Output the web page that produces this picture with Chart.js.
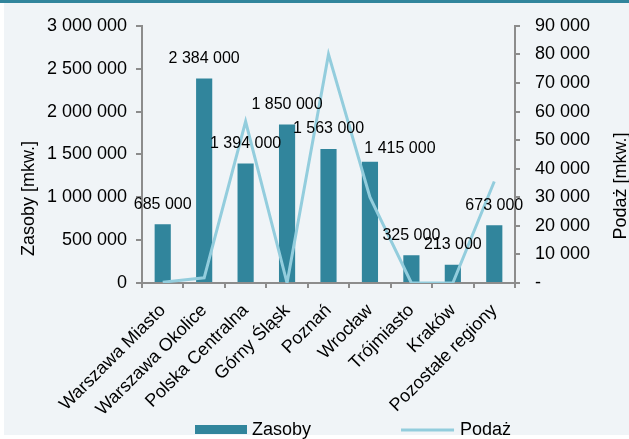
<!DOCTYPE html>
<html>
<head>
<meta charset="utf-8">
<script src="https://cdn.jsdelivr.net/npm/chart.js@4.4.0/dist/chart.umd.min.js"></script>
<style>
  html, body { margin: 0; padding: 0; background: #fff; }
  #wrap { width: 629px; height: 439px; }
</style>
</head>
<body>
<div id="wrap"><canvas id="chart" width="629" height="439"></canvas></div>
<script>
// data
const regions = ['Warszawa Miasto', 'Warszawa Okolice', 'Polska Centralna', 'Górny Śląsk', 'Poznań', 'Wrocław', 'Trójmiasto', 'Kraków', 'Pozostałe regiony'];
const zasoby = [685000, 2384000, 1394000, 1850000, 1563000, 1415000, 325000, 213000, 673000];
const podaz = [300, 1800, 56500, 0, 80000, 30000, 0, 0, 35500];
const seriesNames = ['Zasoby', 'Podaż'];
const axisTitles = ['Zasoby [mkw.]', 'Podaż [mkw.]'];
const leftMax = 3000000, leftStep = 500000;
const rightMax = 90000, rightStep = 10000;

const barColor = '#31859C';
const lineColor = '#93CDDD';
const axisColor = '#8C8C8C';
const FONT = '"Liberation Sans", Arial, sans-serif';

Chart.defaults.font.family = FONT;
Chart.defaults.color = '#000';

const fmt = v => String(v).replace(/\B(?=(\d{3})+(?!\d))/g, ' ');

// label nudges (Excel had the Wrocław label moved by hand)
const labelShift = { 5: [30, 7] };

const panel = {
    id: 'panel',
    beforeDraw(chart) {
        const ctx = chart.ctx;
        ctx.save();
        ctx.fillStyle = '#ffffff';
        ctx.fillRect(0, 0, chart.width, chart.height);
        ctx.fillStyle = '#F0F4F7';
        ctx.fillRect(4, 0, chart.width - 4, 435);
        ctx.fillStyle = barColor;
        ctx.fillRect(0, 0, chart.width, 3);
        ctx.restore();
    }
};

const extras = {
    id: 'extras',
    afterDraw(chart) {
        const ctx = chart.ctx;
        ctx.save();

        // bar value labels
        ctx.font = '16px ' + FONT;
        ctx.fillStyle = '#000';
        ctx.textAlign = 'center';
        ctx.textBaseline = 'middle';
        chart.getDatasetMeta(1).data.forEach((bar, i) => {
            const s = labelShift[i] || [0, 0];
            ctx.fillText(fmt(zasoby[i]), bar.x + s[0], bar.y - 20 + s[1]);
        });

        // axis titles
        ctx.font = '18px ' + FONT;
        [[29.5, 198.5, axisTitles[0]], [621, 186, axisTitles[1]]].forEach(([x, y, t]) => {
            ctx.save();
            ctx.translate(x, y);
            ctx.rotate(-Math.PI / 2);
            ctx.fillText(t, 0, 0);
            ctx.restore();
        });

        // legend
        ctx.textAlign = 'left';
        let x = 195;
        const y = 430;
        ctx.fillStyle = barColor;
        ctx.fillRect(x, y - 5, 52, 9);
        x += 57;
        ctx.fillStyle = '#000';
        ctx.fillText(seriesNames[0], x, y);
        x += ctx.measureText(seriesNames[0]).width + 90;
        ctx.strokeStyle = lineColor;
        ctx.lineWidth = 3;
        ctx.beginPath();
        ctx.moveTo(x, y);
        ctx.lineTo(x + 53, y);
        ctx.stroke();
        ctx.fillText(seriesNames[1], x + 59, y);

        ctx.restore();
    }
};

new Chart(document.getElementById('chart'), {
    type: 'bar',
    data: {
        labels: regions,
        datasets: [
            {
                type: 'line',
                label: seriesNames[1],
                data: podaz,
                yAxisID: 'y1',
                borderColor: lineColor,
                borderWidth: 3,
                pointRadius: 0,
                tension: 0,
                fill: false,
                order: 0
            },
            {
                label: seriesNames[0],
                data: zasoby,
                yAxisID: 'y',
                backgroundColor: barColor,
                barPercentage: 0.39,
                categoryPercentage: 1,
                order: 1
            }
        ]
    },
    options: {
        responsive: false,
        animation: false,
        layout: { padding: { top: 24, left: 0, right: 0, bottom: 0 } },
        plugins: {
            legend: { display: false },
            tooltip: { enabled: false }
        },
        scales: {
            x: {
                grid: { offset: true, drawOnChartArea: false, tickLength: 5, color: axisColor, lineWidth: 2 },
                border: { color: axisColor, width: 2 },
                ticks: { autoSkip: false, minRotation: 45, maxRotation: 45, font: { size: 18 }, padding: 12 },
                afterFit: s => { s.height = 156; }
            },
            y: {
                position: 'left',
                min: 0, max: leftMax,
                grid: { drawOnChartArea: false, tickLength: 6, color: axisColor, lineWidth: 2 },
                border: { color: axisColor, width: 2 },
                ticks: { stepSize: leftStep, font: { size: 18 }, padding: 9, callback: v => fmt(v) },
                afterFit: s => { s.width = 142; }
            },
            y1: {
                position: 'right',
                min: 0, max: rightMax,
                grid: { drawOnChartArea: false, tickLength: 5, color: axisColor, lineWidth: 2 },
                border: { color: axisColor, width: 2 },
                ticks: { stepSize: rightStep, font: { size: 18 }, padding: 15, callback: v => v === 0 ? '-' : fmt(v) },
                afterFit: s => { s.width = 114; }
            }
        }
    },
    plugins: [panel, extras]
});
</script>
</body>
</html>
